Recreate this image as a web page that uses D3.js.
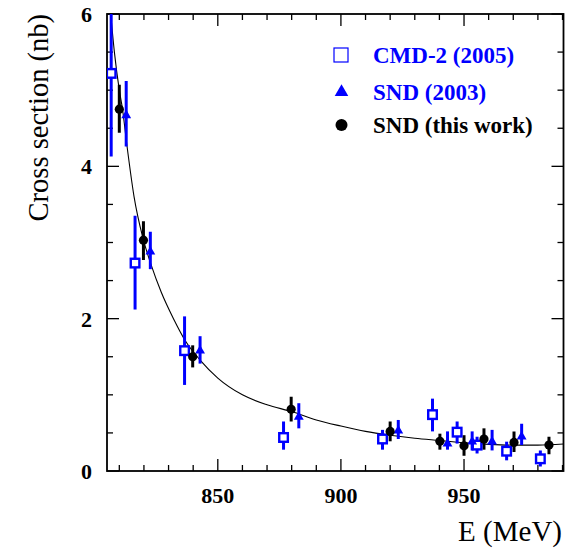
<!DOCTYPE html>
<html><head><meta charset="utf-8">
<script src="https://cdn.jsdelivr.net/npm/d3@7"></script>
<style>body{margin:0;background:#fff}svg{display:block}
text{font-family:"Liberation Serif","Times New Roman",Tinos,"DejaVu Serif",serif}</style>
</head><body>
<script>
// CMD-2 (2005)
const cmdE  = [806.7, 816.4, 836.5, 876.7, 916.9, 937.2, 947.2, 955.3, 967.3, 981.0];
const cmdV  = [5.22, 2.73, 1.58, 0.44, 0.42, 0.74, 0.51, 0.34, 0.26, 0.16];
const cmdLo = [4.13, 2.12, 1.13, 0.28, 0.28, 0.52, 0.36, 0.23, 0.14, 0.06];
const cmdHi = [6.40, 3.35, 2.03, 0.65, 0.54, 0.95, 0.65, 0.45, 0.385, 0.27];
// SND (2003)
const sndOldE  = [812.8, 822.6, 842.8, 882.9, 923.3, 943.3, 953.3, 961.4, 973.4];
const sndOldV  = [4.67, 2.88, 1.58, 0.71, 0.53, 0.36, 0.385, 0.385, 0.45];
const sndOldLo = [4.26, 2.65, 1.41, 0.56, 0.42, 0.28, 0.27, 0.27, 0.34];
const sndOldHi = [5.12, 3.14, 1.77, 0.89, 0.67, 0.52, 0.52, 0.54, 0.62];
// SND (this work)
const sndNewE  = [810.0, 819.8, 839.8, 879.8, 920.0, 940.2, 950.0, 958.1, 970.3, 984.5];
const sndNewV  = [4.75, 3.03, 1.50, 0.81, 0.52, 0.39, 0.33, 0.42, 0.375, 0.34];
const sndNewLo = [4.44, 2.77, 1.36, 0.65, 0.39, 0.28, 0.20, 0.28, 0.25, 0.22];
const sndNewHi = [5.07, 3.28, 1.65, 0.975, 0.65, 0.49, 0.47, 0.56, 0.52, 0.45];
// fit curve
const fitE = [806.5, 808, 810, 811.3, 813, 816, 819.5, 823, 827, 832, 837, 843, 850, 860, 870, 880, 890, 900, 910, 920, 930, 940, 950, 960, 970, 980, 990.4];
const fitV = [6.0, 5.5, 5.0, 4.75, 4.3, 3.6, 3.07, 2.7, 2.35, 2.0, 1.7, 1.45, 1.22, 1.0, 0.87, 0.78, 0.67, 0.59, 0.52, 0.47, 0.43, 0.40, 0.37, 0.35, 0.34, 0.34, 0.355];
// axes
const xMajor = [850, 900, 950];
const yMajor = [0, 2, 4, 6];
const legendLabels = ["CMD-2 (2005)", "SND (2003)", "SND (this work)"];

const W = 577, H = 548;
const L = 107, R = 563.5, T = 14, B = 471;
const x = d3.scaleLinear().domain([805, 990.4]).range([L, R]);
const y = d3.scaleLinear().domain([0, 6]).range([B, T]);
const svg = d3.select("body").append("svg").attr("width", W).attr("height", H);

svg.append("defs").append("clipPath").attr("id", "clip")
  .append("rect").attr("x", L).attr("y", T).attr("width", R - L).attr("height", B - T);

// ticks
const xMinor = d3.range(810, 991, 10).filter(v => v % 50 !== 0);
const yMinor = d3.range(0.5, 6, 0.5).filter(v => v % 2 !== 0);
const tk = svg.append("g").attr("stroke", "#000").attr("stroke-width", 1.3);
xMajor.concat(xMinor).forEach(v => {
  const len = xMajor.includes(v) ? 12 : 6;
  tk.append("line").attr("x1", x(v)).attr("x2", x(v)).attr("y1", B).attr("y2", B - len);
  tk.append("line").attr("x1", x(v)).attr("x2", x(v)).attr("y1", T).attr("y2", T + len);
});
yMajor.concat(yMinor).forEach(v => {
  const len = yMajor.includes(v) ? 12 : 6;
  tk.append("line").attr("y1", y(v)).attr("y2", y(v)).attr("x1", L).attr("x2", L + len);
  tk.append("line").attr("y1", y(v)).attr("y2", y(v)).attr("x1", R).attr("x2", R - len);
});
svg.append("rect").attr("x", L).attr("y", T).attr("width", R - L).attr("height", B - T)
  .attr("fill", "none").attr("stroke", "#000").attr("stroke-width", 1.8);

// tick labels
svg.selectAll(".xl").data(xMajor).enter().append("text")
  .attr("x", d => x(d)).attr("y", 503).attr("text-anchor", "middle")
  .attr("font-weight", "bold").attr("font-size", 22).text(d => d);
svg.selectAll(".yl").data(yMajor).enter().append("text")
  .attr("x", 92).attr("y", d => y(d) + 8).attr("text-anchor", "end")
  .attr("font-weight", "bold").attr("font-size", 22).text(d => d);

// axis titles
svg.append("text").attr("x", 562).attr("y", 541).attr("text-anchor", "end")
  .attr("font-size", 29).text("E (MeV)");
svg.append("text").attr("transform", "translate(48,14) rotate(-90)").attr("text-anchor", "end")
  .attr("font-size", 28.5).text("Cross section (nb)");

const g = svg.append("g").attr("clip-path", "url(#clip)");

// fit curve
g.append("path").datum(fitE.map((e, i) => [e, fitV[i]]))
  .attr("d", d3.line().x(d => x(d[0])).y(d => y(d[1])).curve(d3.curveMonotoneX))
  .attr("fill", "none").attr("stroke", "#000").attr("stroke-width", 1.1);

function errs(E, lo, hi, color) {
  E.forEach((e, i) => {
    g.append("line").attr("x1", x(e)).attr("x2", x(e)).attr("y1", y(lo[i])).attr("y2", y(hi[i]))
      .attr("stroke", color).attr("stroke-width", 3);
  });
}
errs(cmdE, cmdLo, cmdHi, "#0000ff");
errs(sndOldE, sndOldLo, sndOldHi, "#0000ff");
errs(sndNewE, sndNewLo, sndNewHi, "#000");

const tri = d3.symbol().type(d3.symbolTriangle).size(42);
cmdE.forEach((e, i) => {
  g.append("rect").attr("x", x(e) - 4.3).attr("y", y(cmdV[i]) - 4.3).attr("width", 8.6).attr("height", 8.6)
    .attr("fill", "#fff").attr("stroke", "#0000ff").attr("stroke-width", 2.4);
});
sndOldE.forEach((e, i) => {
  g.append("path").attr("d", tri).attr("transform", `translate(${x(e)},${y(sndOldV[i])})`).attr("fill", "#0000ff");
});
sndNewE.forEach((e, i) => {
  g.append("circle").attr("cx", x(e)).attr("cy", y(sndNewV[i])).attr("r", 4.6).attr("fill", "#000");
});

// legend
const lg = svg.append("g");
const ly = [55, 92, 125], lcol = ["#0000ff", "#0000ff", "#000"];
lg.append("rect").attr("x", 334).attr("y", ly[0] - 7).attr("width", 14).attr("height", 14)
  .attr("fill", "none").attr("stroke", "#0000ff").attr("stroke-width", 1.2);
lg.append("path").attr("d", d3.symbol().type(d3.symbolTriangle).size(80)).attr("transform", `translate(341.5,${ly[1]})`).attr("fill", "#0000ff");
lg.append("circle").attr("cx", 341.5).attr("cy", ly[2]).attr("r", 6).attr("fill", "#000");
legendLabels.forEach((t, i) => {
  lg.append("text").attr("x", 373).attr("y", ly[i] + 8).attr("font-weight", "bold")
    .attr("font-size", 23).attr("fill", lcol[i]).text(t);
});
</script>
</body></html>
